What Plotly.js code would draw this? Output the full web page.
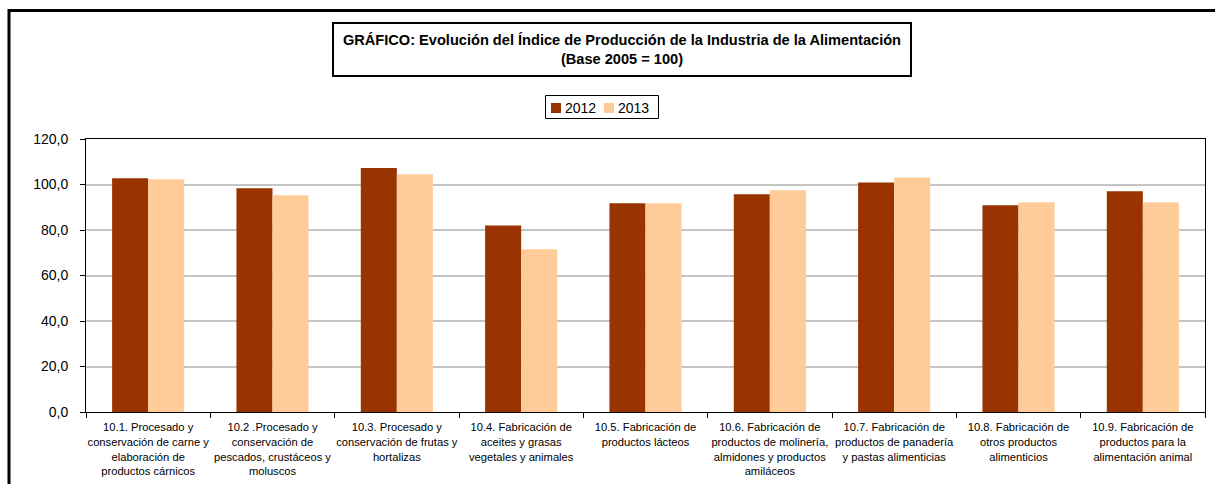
<!DOCTYPE html>
<html>
<head>
<meta charset="utf-8">
<script src="https://cdn.plot.ly/plotly-3.0.1.min.js"></script>
<style>
html,body{margin:0;padding:0;background:#fff;}
#chart{width:1215px;height:484px;}
</style>
</head>
<body>
<div id="chart"></div>
<script>
const categories = [
  "10.1. Procesado y<br>conservación de carne y<br>elaboración de<br>productos cárnicos",
  "10.2 .Procesado y<br>conservación de<br>pescados, crustáceos y<br>moluscos",
  "10.3. Procesado y<br>conservación de frutas y<br>hortalizas",
  "10.4. Fabricación de<br>aceites y grasas<br>vegetales y animales",
  "10.5. Fabricación de<br>productos lácteos",
  "10.6. Fabricación de<br>productos de molinería,<br>almidones y productos<br>amiláceos",
  "10.7. Fabricación de<br>productos de panadería<br>y pastas alimenticias",
  "10.8. Fabricación de<br>otros productos<br>alimenticios",
  "10.9. Fabricación de<br>productos para la<br>alimentación animal"
];
const values2012 = [102.8, 98.4, 107.2, 82.0, 91.8, 95.7, 100.9, 90.9, 97.0];
const values2013 = [102.3, 95.3, 104.5, 71.5, 91.8, 97.5, 103.1, 92.2, 92.2];
const seriesNames = ["2012", "2013"];
const seriesColors = ["#993300", "#FFCC99"];
const titleText = "GRÁFICO: Evolución del Índice de Producción de la Industria de la Alimentación<br>(Base 2005 = 100)";

const W = 1215, H = 484;
const mL = 86, mR = 10, mT = 139, mB = 72;
const pw = W - mL - mR, ph = H - mT - mB;
const px = x => (x - mL) / pw;
const py = y => (H - mB - y) / ph;

const font = "Liberation Sans, Arial, sans-serif";

const traces = [values2012, values2013].map((v, i) => ({
  type: "bar",
  x: categories,
  y: v,
  name: seriesNames[i],
  marker: {color: seriesColors[i], line: {width: 0}},
  hoverinfo: "skip"
}));

const shapes = [
  // outer frame
  {type: "rect", xref: "paper", yref: "paper", x0: px(9), x1: px(1240), y0: py(500), y1: py(10.5),
   line: {color: "#000", width: 3}, fillcolor: "rgba(0,0,0,0)", layer: "above"},
  // legend box
  {type: "rect", xref: "paper", yref: "paper", x0: px(545.5), x1: px(658.5), y0: py(118.5), y1: py(95.5),
   line: {color: "#000", width: 1}, fillcolor: "#fff"},
  {type: "rect", xref: "paper", yref: "paper", x0: px(551), x1: px(561), y0: py(113), y1: py(103),
   line: {width: 0}, fillcolor: seriesColors[0]},
  {type: "rect", xref: "paper", yref: "paper", x0: px(604), x1: px(614), y0: py(113), y1: py(103),
   line: {width: 0}, fillcolor: seriesColors[1]}
];

const annotations = [
  {xref: "paper", yref: "paper", x: px(622), y: py(49), xanchor: "center", yanchor: "middle",
   text: "<b>" + titleText.replace("<br>", "</b><br><b>") + "</b>", showarrow: false,
   font: {family: font, size: 14.6, color: "#000"},
   width: 576, height: 51, borderpad: 0, bordercolor: "#000", borderwidth: 2, bgcolor: "#fff", align: "center"},
  {xref: "paper", yref: "paper", x: px(563), y: py(108), xanchor: "left", yanchor: "middle",
   text: seriesNames[0], showarrow: false, font: {family: font, size: 14, color: "#000"}},
  {xref: "paper", yref: "paper", x: px(616), y: py(108), xanchor: "left", yanchor: "middle",
   text: seriesNames[1], showarrow: false, font: {family: font, size: 14, color: "#000"}}
];

const layout = {
  width: W, height: H,
  margin: {l: mL, r: mR, t: mT, b: mB, pad: 0},
  paper_bgcolor: "#fff", plot_bgcolor: "#fff",
  showlegend: false,
  barmode: "group",
  bargap: 0.42,
  bargroupgap: 0,
  separators: ",.",
  font: {family: font, color: "#000"},
  xaxis: {
    type: "category",
    showline: true, linecolor: "#000", linewidth: 1, mirror: true,
    ticks: "outside", tickson: "boundaries", ticklen: 5, tickcolor: "#000", tickwidth: 1,
    ticklabelstandoff: 5,
    tickfont: {family: font, size: 11.2, color: "#000"},
    tickangle: 0, automargin: false, showgrid: false, zeroline: false
  },
  yaxis: {
    range: [0, 120], dtick: 20, tick0: 0, tickformat: ".1f",
    showline: true, linecolor: "#000", linewidth: 1, mirror: true,
    ticks: "outside", ticklen: 5, tickcolor: "#000", tickwidth: 1,
    ticklabelstandoff: 9,
    tickfont: {family: font, size: 14, color: "#000"},
    showgrid: true, gridcolor: "#c4c4c4", gridwidth: 2,
    zeroline: false, automargin: false
  },
  shapes: shapes,
  annotations: annotations
};

Plotly.newPlot("chart", traces, layout, {displayModeBar: false, staticPlot: true});
</script>
</body>
</html>
